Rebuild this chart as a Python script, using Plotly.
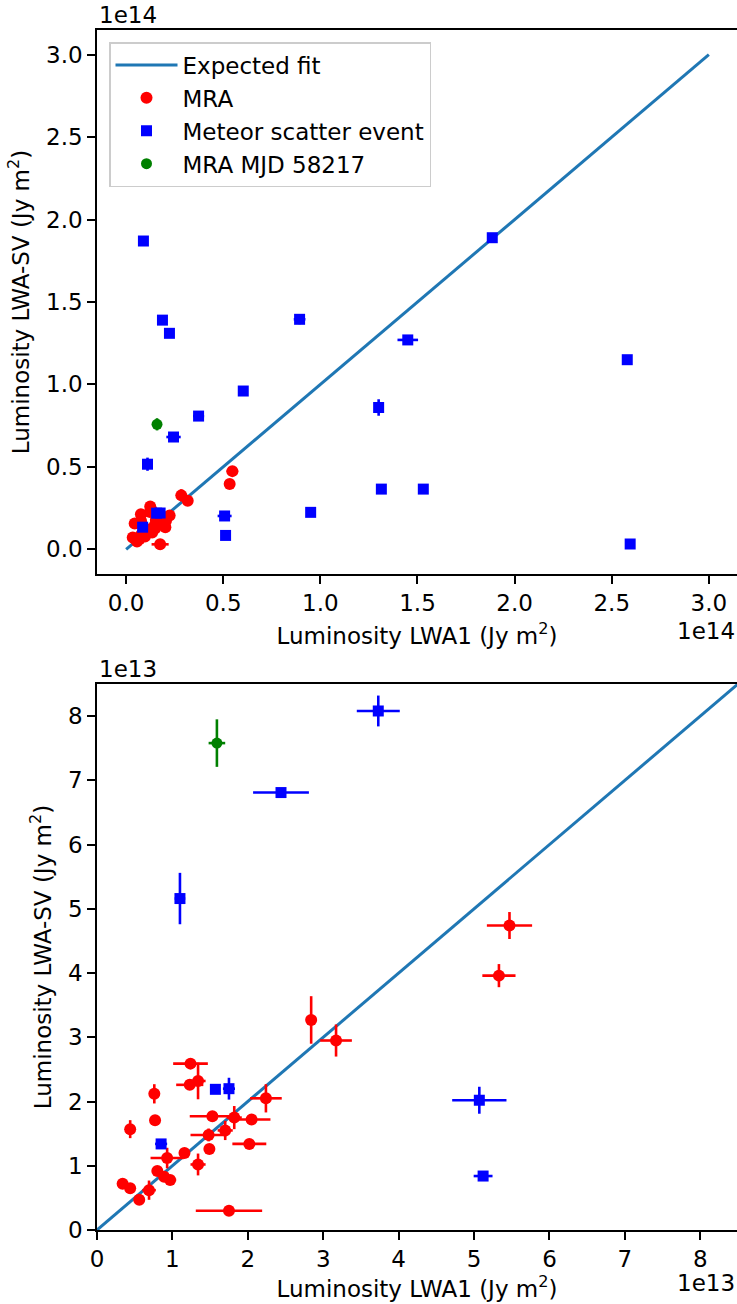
import plotly.graph_objects as go

# All luminosities in units of 1e13 Jy m^2 (LWA1 on x, LWA-SV on y)
fit_x = [0.0, 30.0]
fit_y = [0.0, 30.0]

mra_lwa1 = [1.24, 1.23, 1.34, 0.76, 0.77, 0.44, 1.53, 1.82, 2.05, 1.70, 1.48, 1.49, 2.02, 2.24, 1.16,
            0.93, 1.34, 0.80, 0.89, 0.97, 0.34, 0.44, 0.69, 0.56, 1.75, 2.84, 3.17, 5.47, 5.33]
mra_lwasv = [2.59, 2.26, 2.32, 2.12, 1.71, 1.57, 1.77, 1.75, 1.72, 1.55, 1.48, 1.26, 1.34, 2.05, 1.20,
             1.12, 1.02, 0.92, 0.83, 0.78, 0.72, 0.65, 0.62, 0.47, 0.30, 3.27, 2.95, 4.74, 3.96]
mra_lwa1_err = [0.23, 0.18, 0.10, 0.07, 0.07, 0.05, 0.30, 0.10, 0.25, 0.10, 0.24, 0.05, 0.225, 0.21, 0.05,
                0.22, 0.10, 0.06, 0.05, 0.08, 0.06, 0.05, 0.09, 0.05, 0.44, 0.07, 0.21, 0.30, 0.22]
mra_lwasv_err = [0.05, 0.05, 0.285, 0.15, 0.05, 0.14, 0.05, 0.18, 0.07, 0.15, 0.10, 0.05, 0.04, 0.22, 0.05,
                 0.16, 0.17, 0.06, 0.05, 0.04, 0.04, 0.04, 0.15, 0.05, 0.03, 0.37, 0.25, 0.21, 0.18]

met_lwa1 = [0.85, 1.57, 1.75, 1.10, 2.44, 3.73, 5.07, 5.12, 0.89, 1.87, 2.23, 8.93, 6.03, 18.85,
            14.5, 13.0, 13.14, 15.3, 9.5, 25.8, 25.95]
met_lwasv = [1.34, 2.19, 2.20, 5.16, 6.81, 8.08, 2.02, 0.84, 18.7, 13.9, 13.1, 13.95, 9.6, 18.9,
             12.7, 8.6, 3.65, 3.65, 2.24, 11.5, 0.32]
met_lwa1_err = [0.08, 0.05, 0.08, 0.07, 0.37, 0.285, 0.36, 0.125, 0.05, 0.05, 0.05, 0.3, 0.05, 0.1,
                0.53, 0.2, 0.05, 0.05, 0.05, 0.05, 0.05]
met_lwasv_err = [0.04, 0.05, 0.17, 0.40, 0.05, 0.24, 0.21, 0.05, 0.05, 0.05, 0.05, 0.3, 0.05, 0.1,
                 0.3, 0.5, 0.05, 0.05, 0.05, 0.05, 0.05]

g_lwa1 = [1.59]
g_lwasv = [7.58]
g_lwa1_err = [0.11]
g_lwasv_err = [0.37]

FONT = "DejaVu Sans"
FS = 23
W, H = 737, 1304
ML, MR, MT, MB = 97, 0, 30, 74

fig = go.Figure()


def sc(vals, s):
    return [v / s for v in vals]


def add_panel(scale, xa, ya, legend):
    fig.add_trace(go.Scatter(
        x=sc(fit_x, scale), y=sc(fit_y, scale), mode="lines",
        line=dict(color="#1f77b4", width=3), name="Expected fit",
        xaxis=xa, yaxis=ya, showlegend=legend, cliponaxis=True))
    sets = [
        ("MRA", mra_lwa1, mra_lwasv, mra_lwa1_err, mra_lwasv_err, "#ff0000", "circle", 12),
        ("Meteor scatter event", met_lwa1, met_lwasv, met_lwa1_err, met_lwasv_err, "#0000ff", "square", 11),
        ("MRA MJD 58217", g_lwa1, g_lwasv, g_lwa1_err, g_lwasv_err, "#008000", "circle", 11),
    ]
    for name, xs, ys, xe, ye, col, sym, size in sets:
        fig.add_trace(go.Scatter(
            x=sc(xs, scale), y=sc(ys, scale), mode="markers", name=name,
            marker=dict(color=col, symbol=sym, size=size, line=dict(width=0)),
            error_x=dict(type="data", array=sc(xe, scale), color=col, thickness=2.6, width=0),
            error_y=dict(type="data", array=sc(ye, scale), color=col, thickness=2.6, width=0),
            xaxis=xa, yaxis=ya, showlegend=legend))


add_panel(10.0, "x", "y", True)
add_panel(1.0, "x2", "y2", False)

ph = H - MT - MB
top_dom = [1 - (574 - MT) / ph, 1.0]
bot_dom = [0.0, 1 - (684 - MT) / ph]

axis_common = dict(
    showline=True, linecolor="black", linewidth=1.6, ticks="outside", ticklen=8,
    tickwidth=1.6, tickcolor="black", showgrid=False, zeroline=False,
    tickfont=dict(family=FONT, size=FS, color="black"),
)
xt = "Luminosity LWA1 (Jy m<sup>2</sup>)"
yt = "Luminosity LWA-SV (Jy m<sup>2</sup>)"

top_ticks = [0.0, 0.5, 1.0, 1.5, 2.0, 2.5, 3.0]
bot_ticks = [0, 1, 2, 3, 4, 5, 6, 7, 8]

fig.update_layout(
    width=W, height=H, margin=dict(l=ML, r=MR, t=MT, b=MB),
    paper_bgcolor="white", plot_bgcolor="white",
    font=dict(family=FONT, size=FS, color="black"),
    xaxis=dict(domain=[0, 1], anchor="y", range=[-0.15, 3.145], mirror=True,
               tickvals=top_ticks, ticktext=[f"{t:.1f}" for t in top_ticks],
               title=dict(text=xt, standoff=12, font=dict(family=FONT, size=FS)), **axis_common),
    yaxis=dict(domain=top_dom, anchor="x", range=[-0.15, 3.15],
               tickvals=top_ticks, ticktext=[f"{t:.1f}" for t in top_ticks],
               title=dict(text=yt, standoff=10, font=dict(family=FONT, size=FS)), **axis_common),
    xaxis2=dict(domain=[0, 1], anchor="y2", range=[0, 8.487], mirror=True,
                tickvals=bot_ticks, ticktext=[str(t) for t in bot_ticks],
                title=dict(text=xt, standoff=8, font=dict(family=FONT, size=FS)), **axis_common),
    yaxis2=dict(domain=bot_dom, anchor="x2", range=[0, 8.5],
                tickvals=bot_ticks, ticktext=[str(t) for t in bot_ticks],
                title=dict(text=yt, standoff=10, font=dict(family=FONT, size=FS)), **axis_common),
    legend=dict(x=(109 - ML) / (W - ML - MR), y=1 - (42 - MT) / ph, xanchor="left", yanchor="top",
                bgcolor="rgba(255,255,255,0.8)", bordercolor="#cccccc", borderwidth=1.5,
                itemwidth=62, font=dict(family=FONT, size=FS, color="black")),
    annotations=[
        dict(text="1e14", xref="paper", yref="paper", x=0, y=1, xanchor="left", yanchor="bottom",
             showarrow=False, yshift=0, font=dict(family=FONT, size=FS)),
        dict(text="1e14", xref="paper", yref="paper", x=1, y=1 - (631 - MT) / ph, xanchor="right",
             yanchor="middle", showarrow=False, font=dict(family=FONT, size=FS)),
        dict(text="1e13", xref="paper", yref="paper", x=0, y=bot_dom[1], xanchor="left", yanchor="bottom",
             showarrow=False, yshift=0, font=dict(family=FONT, size=FS)),
        dict(text="1e13", xref="paper", yref="paper", x=1, y=1 - (1283 - MT) / ph, xanchor="right",
             yanchor="middle", showarrow=False, font=dict(family=FONT, size=FS)),
    ],
)

fig.write_html("out.html")
